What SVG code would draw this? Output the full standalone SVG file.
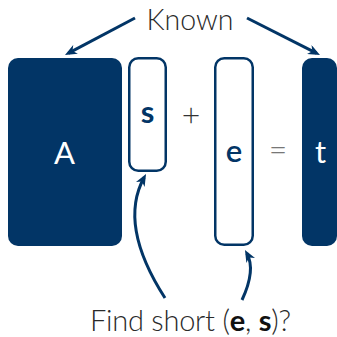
<svg xmlns="http://www.w3.org/2000/svg" width="337" height="337" viewBox="0 0 337 337">
  <style>
    .solid { fill: #023566; }
    .hollow { fill: #ffffff; stroke: #023566; stroke-width: 2.5; }
    .link { fill: none; stroke: #023566; stroke-width: 3; marker-end: url(#head); }
    .note { font-family: Lato, "Open Sans", "Liberation Sans", sans-serif; font-weight: 300; fill: #2a2a2a; }
    .sym { font-family: Lato, "Open Sans", "Liberation Sans", sans-serif; text-anchor: middle; }
  </style>
  <defs>
    <marker id="head" markerUnits="userSpaceOnUse" viewBox="0 0 12 10" refX="8" refY="5" markerWidth="12" markerHeight="10" orient="auto">
      <path d="M0,0 L12,5 L0,10 L3.5,5 Z" fill="#023566"/>
    </marker>
  </defs>

  <!-- Labels -->
  <text class="note" x="190" y="30" font-size="28.5" text-anchor="middle">Known</text>
  <text class="note" x="90" y="331" font-size="29" textLength="201" lengthAdjust="spacing">Find short (<tspan font-weight="700" fill="#111111">e</tspan>, <tspan font-weight="700" fill="#111111">s</tspan>)?</text>

  <!-- Matrix A -->
  <g id="A">
    <rect class="solid" x="8" y="58" width="114" height="188" rx="10"/>
    <text class="sym" x="64.5" y="163.5" font-size="31" fill="#ffffff">A</text>
  </g>

  <!-- Secret vector s -->
  <g id="s">
    <rect class="hollow" x="129.25" y="58.25" width="36.5" height="112.5" rx="9"/>
    <text class="sym" x="147.5" y="123" font-size="31" font-weight="700" fill="#023566">s</text>
  </g>

  <g id="plus">
    <text class="sym" x="191" y="126" font-size="32" font-weight="300" fill="#333333">+</text>
  </g>

  <!-- Error vector e -->
  <g id="e">
    <rect class="hollow" x="215.25" y="58.25" width="37.5" height="186.5" rx="9"/>
    <text class="sym" x="234" y="162" font-size="31" font-weight="600" fill="#023566">e</text>
  </g>

  <g id="equals">
    <text class="sym" x="278" y="161" font-size="32" font-weight="300" fill="#777777">=</text>
  </g>

  <!-- Result t -->
  <g id="t">
    <rect class="solid" x="302" y="58" width="35" height="188" rx="10"/>
    <text class="sym" x="320.5" y="163" font-size="31" fill="#ffffff">t</text>
  </g>

  <!-- Connectors -->
  <g id="connectors">
    <path class="link" d="M135,18 L68.5,53.1"/>
    <path class="link" d="M247,18 L316.4,53.2"/>
    <path class="link" d="M165,298 Q118,225 144.1,177.5"/>
    <path class="link" d="M242,300 Q256,270 246.9,253.5"/>
  </g>
</svg>
